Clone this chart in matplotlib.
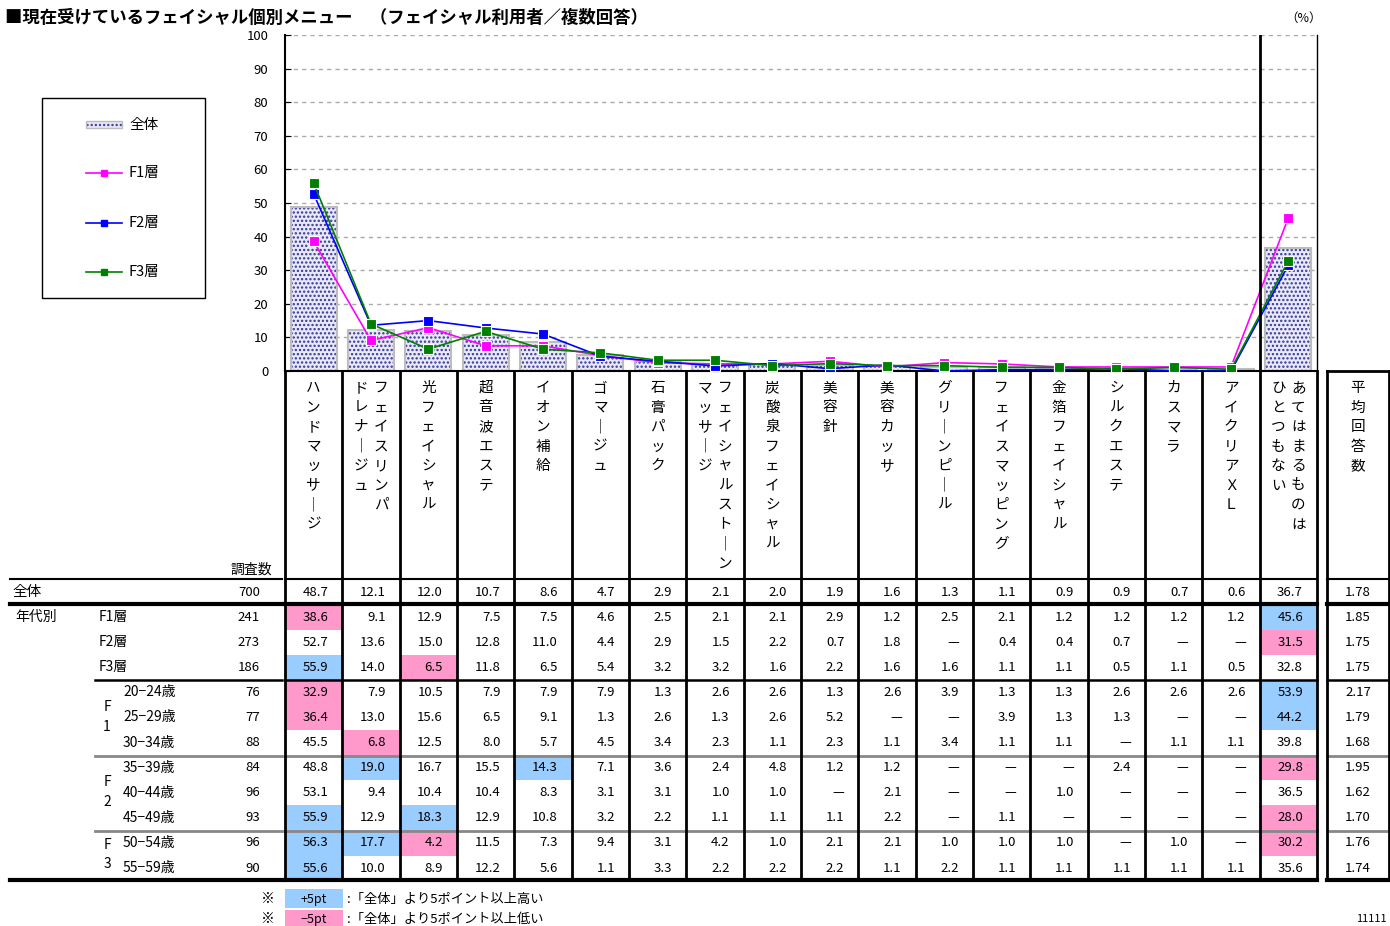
import matplotlib
matplotlib.use("Agg")
import matplotlib.pyplot as plt
import numpy as np
from matplotlib.patches import Rectangle
from matplotlib.lines import Line2D

plt.rcParams['font.family'] = ['Noto Sans CJK JP', 'DejaVu Sans']
plt.rcParams['hatch.linewidth'] = 1.1

# ---- data ----
cat_labels = [
    ["ハンドマッサージ"], ["フェイスリンパ", "ドレナージュ"], ["光フェイシャル"], ["超音波エステ"],
    ["イオン補給"], ["ゴマージュ"], ["石膏パック"], ["フェイシャルストーン", "マッサージ"],
    ["炭酸泉フェイシャル"], ["美容針"], ["美容カッサ"], ["グリーンピール"], ["フェイスマッピング"],
    ["金箔フェイシャル"], ["シルクエステ"], ["カスマラ"], ["アイクリアＸＬ"],
    ["あてはまるものは", "ひとつもない"],
]
avg_label = "平均回答数"

row_names = ["全体", "F1層", "F2層", "F3層", "20−24歳", "25−29歳", "30−34歳",
             "35−39歳", "40−44歳", "45−49歳", "50−54歳", "55−59歳"]
row_n = [700, 241, 273, 186, 76, 77, 88, 84, 96, 93, 96, 90]
N = None
total = [48.7, 12.1, 12.0, 10.7, 8.6, 4.7, 2.9, 2.1, 2.0, 1.9, 1.6, 1.3, 1.1, 0.9, 0.9, 0.7, 0.6, 36.7]
f1 = [38.6, 9.1, 12.9, 7.5, 7.5, 4.6, 2.5, 2.1, 2.1, 2.9, 1.2, 2.5, 2.1, 1.2, 1.2, 1.2, 1.2, 45.6]
f2 = [52.7, 13.6, 15.0, 12.8, 11.0, 4.4, 2.9, 1.5, 2.2, 0.7, 1.8, N, 0.4, 0.4, 0.7, N, N, 31.5]
f3 = [55.9, 14.0, 6.5, 11.8, 6.5, 5.4, 3.2, 3.2, 1.6, 2.2, 1.6, 1.6, 1.1, 1.1, 0.5, 1.1, 0.5, 32.8]
a20 = [32.9, 7.9, 10.5, 7.9, 7.9, 7.9, 1.3, 2.6, 2.6, 1.3, 2.6, 3.9, 1.3, 1.3, 2.6, 2.6, 2.6, 53.9]
a25 = [36.4, 13.0, 15.6, 6.5, 9.1, 1.3, 2.6, 1.3, 2.6, 5.2, N, N, 3.9, 1.3, 1.3, N, N, 44.2]
a30 = [45.5, 6.8, 12.5, 8.0, 5.7, 4.5, 3.4, 2.3, 1.1, 2.3, 1.1, 3.4, 1.1, 1.1, N, 1.1, 1.1, 39.8]
a35 = [48.8, 19.0, 16.7, 15.5, 14.3, 7.1, 3.6, 2.4, 4.8, 1.2, 1.2, N, N, N, 2.4, N, N, 29.8]
a40 = [53.1, 9.4, 10.4, 10.4, 8.3, 3.1, 3.1, 1.0, 1.0, N, 2.1, N, N, 1.0, N, N, N, 36.5]
a45 = [55.9, 12.9, 18.3, 12.9, 10.8, 3.2, 2.2, 1.1, 1.1, 1.1, 2.2, N, 1.1, N, N, N, N, 28.0]
a50 = [56.3, 17.7, 4.2, 11.5, 7.3, 9.4, 3.1, 4.2, 1.0, 2.1, 2.1, 1.0, 1.0, 1.0, N, 1.0, N, 30.2]
a55 = [55.6, 10.0, 8.9, 12.2, 5.6, 1.1, 3.3, 2.2, 2.2, 2.2, 1.1, 2.2, 1.1, 1.1, 1.1, 1.1, 1.1, 35.6]
avg_answers = [1.78, 1.85, 1.75, 1.75, 2.17, 1.79, 1.68, 1.95, 1.62, 1.70, 1.76, 1.74]
table_rows = [total, f1, f2, f3, a20, a25, a30, a35, a40, a45, a50, a55]

BLUE_HI = "#99CCFF"
PINK_HI = "#FF99CC"
BAR_FACE = "#E8E8F6"
BAR_DOTS = "#34349A"

# ---- layout (pixels) ----
W, H = 1390, 926
X0, X1, Y100, Y0 = 285, 1317, 35, 371
ncat = len(total)
cw = (X1 - X0) / ncat
AVG_L, AVG_R = 1327, 1389

fig = plt.figure(figsize=(W / 100, H / 100), dpi=100)
ax = fig.add_axes([X0 / W, 1 - Y0 / H, (X1 - X0) / W, (Y0 - Y100) / H])

x = np.arange(ncat)
ax.bar(x, total, width=0.8, facecolor=BAR_FACE, edgecolor=BAR_DOTS, hatch="....", linewidth=0, zorder=2)
ax.bar(x, total, width=0.8, fill=False, edgecolor="#BDBDBD", linewidth=1.5, zorder=2)

def as_plot(vals):
    return [0 if v is None else v for v in vals]

for vals, col in [(f1, "#FF00FF"), (f2, "#0000FF"), (f3, "#008000")]:
    ax.plot(x, as_plot(vals), color=col, lw=1.2, marker="s", ms=7.5,
            markeredgecolor="white", markeredgewidth=0.8, zorder=4)

ax.axvline(ncat - 1.5, color="black", lw=2, zorder=5)
ax.set_xlim(-0.5, ncat - 0.5)
ax.set_ylim(0, 100)
ax.set_yticks(range(0, 101, 10))
ax.set_xticks([])
ax.tick_params(axis="y", direction="in", length=4, labelsize=9.5, pad=12)
ax.yaxis.grid(True, color="#AAAAAA", lw=1, dashes=(3, 3))
ax.set_axisbelow(True)
ax.spines["top"].set_visible(False)
ax.spines["left"].set_linewidth(1.5)
ax.spines["bottom"].set_linewidth(1.5)
ax.spines["right"].set_linewidth(1.0)

# ---- overlay for table, legend and texts ----
ov = fig.add_axes([0, 0, 1, 1])
ov.set_xlim(0, W)
ov.set_ylim(H, 0)
ov.axis("off")
ov.patch.set_alpha(0)

ov.text(5, 18, "■現在受けているフェイシャル個別メニュー　（フェイシャル利用者／複数回答）",
        fontsize=12.5, fontweight="bold", va="center", ha="left")
ov.text(1322, 18, "（%）", fontsize=9, va="center", ha="right")

# legend
ov.add_patch(Rectangle((42, 98), 163, 200, fill=False, edgecolor="black", lw=1))
ov.add_patch(Rectangle((86, 121), 36, 7, facecolor=BAR_FACE, edgecolor=BAR_DOTS, hatch="....", lw=0))
ov.add_patch(Rectangle((86, 121), 36, 7, fill=False, edgecolor="#BDBDBD", lw=1))
ov.text(129, 125, "全体", fontsize=10.5, va="center")
for yy, col, lab in [(173, "#FF00FF", "F1層"), (223, "#0000FF", "F2層"), (272, "#008000", "F3層")]:
    ov.add_line(Line2D([86, 122], [yy, yy], color=col, lw=1.2))
    ov.add_line(Line2D([104], [yy], color=col, marker="s", ms=5, mec=col))
    ov.text(129, yy, lab, fontsize=10.5, va="center")

# column headers (vertical text)
ch = 19.5
def vchar(c):
    return "｜" if c == "ー" else c

for i, cols in enumerate(cat_labels):
    cx = X0 + cw * (i + 0.5)
    offs = [0] if len(cols) == 1 else [10, -10]
    for s, dx in zip(cols, offs):
        for k, c in enumerate(s):
            ov.text(cx + dx, 388 + k * ch, vchar(c), fontsize=10.5, ha="center", va="center")
for k, c in enumerate(avg_label):
    ov.text((AVG_L + AVG_R) / 2, 388 + k * ch, c, fontsize=10.5, ha="center", va="center")

# table
row_y = [592 + 25.1 * k for k in range(len(table_rows))]
rh = 25.1
for r, (vals, yy) in enumerate(zip(table_rows, row_y)):
    for i, v in enumerate(vals):
        left = X0 + cw * i
        if r > 0 and v is not None:
            d = v - total[i]
            if d >= 5:
                ov.add_patch(Rectangle((left, yy - rh / 2), cw, rh, facecolor=BLUE_HI, lw=0, zorder=1))
            elif d <= -5:
                ov.add_patch(Rectangle((left, yy - rh / 2), cw, rh, facecolor=PINK_HI, lw=0, zorder=1))
        txt = "—" if v is None else f"{v:.1f}"
        ov.text(left + cw - 14, yy, txt, fontsize=9.5, ha="right", va="center", zorder=3)
    ov.text((AVG_L + AVG_R) / 2, yy, f"{avg_answers[r]:.2f}", fontsize=9.5, ha="center", va="center", zorder=3)
    ov.text(260, yy, str(row_n[r]), fontsize=9.5, ha="right", va="center")

ov.text(272, 570, "調査数", fontsize=10, ha="right", va="center")
ov.text(12, row_y[0], row_names[0], fontsize=10.5, ha="left", va="center")
ov.text(15, row_y[1], "年代別", fontsize=10, ha="left", va="center")
for r in range(1, 4):
    ov.text(99, row_y[r], row_names[r], fontsize=10, ha="left", va="center")
for r in range(4, 12):
    ov.text(123, row_y[r], row_names[r], fontsize=10, ha="left", va="center")
for letter, digit, yf, yd in [("F", "1", 707, 727), ("F", "2", 782, 802), ("F", "3", 845, 864)]:
    ov.text(107, yf, letter, fontsize=10, ha="center", va="center")
    ov.text(107, yd, digit, fontsize=10, ha="center", va="center")

def hline(y, x_start, lw, color="black"):
    ov.add_line(Line2D([x_start, 282], [y, y], color=color, lw=lw, zorder=4))
    ov.add_line(Line2D([X0, X1], [y, y], color=color, lw=lw, zorder=4))
    ov.add_line(Line2D([AVG_L, AVG_R], [y, y], color=color, lw=lw, zorder=4))

hline(579, 10, 1.5)
hline(604, 10, 3)
hline(680, 95, 1.8)
hline(755.5, 95, 2, "#888888")
hline(830.5, 95, 2, "#888888")
hline(880, 10, 3)
ov.add_line(Line2D([AVG_L, AVG_R], [Y0, Y0], color="black", lw=2, zorder=4))

for k in range(ncat + 1):
    xx = X0 + cw * k
    ov.add_line(Line2D([xx, xx], [Y0, 880], color="black", lw=2, zorder=4))
for xx in (AVG_L, AVG_R):
    ov.add_line(Line2D([xx, xx], [Y0, 880], color="black", lw=2, zorder=4))

# footnote
ov.text(268, 899, "※", fontsize=10, ha="center", va="center")
ov.text(268, 919, "※", fontsize=10, ha="center", va="center")
ov.add_patch(Rectangle((285, 889), 58, 19, facecolor=BLUE_HI, lw=0))
ov.add_patch(Rectangle((285, 910), 58, 17, facecolor=PINK_HI, lw=0))
ov.text(314, 899, "+5pt", fontsize=9, ha="center", va="center")
ov.text(314, 919, "−5pt", fontsize=9, ha="center", va="center")
ov.text(347, 899, ":「全体」より5ポイント以上高い", fontsize=9.5, ha="left", va="center")
ov.text(347, 919, ":「全体」より5ポイント以上低い", fontsize=9.5, ha="left", va="center")
ov.text(1356, 919, "11111", fontsize=8, ha="left", va="center")

fig.savefig("out.png", dpi=100)
